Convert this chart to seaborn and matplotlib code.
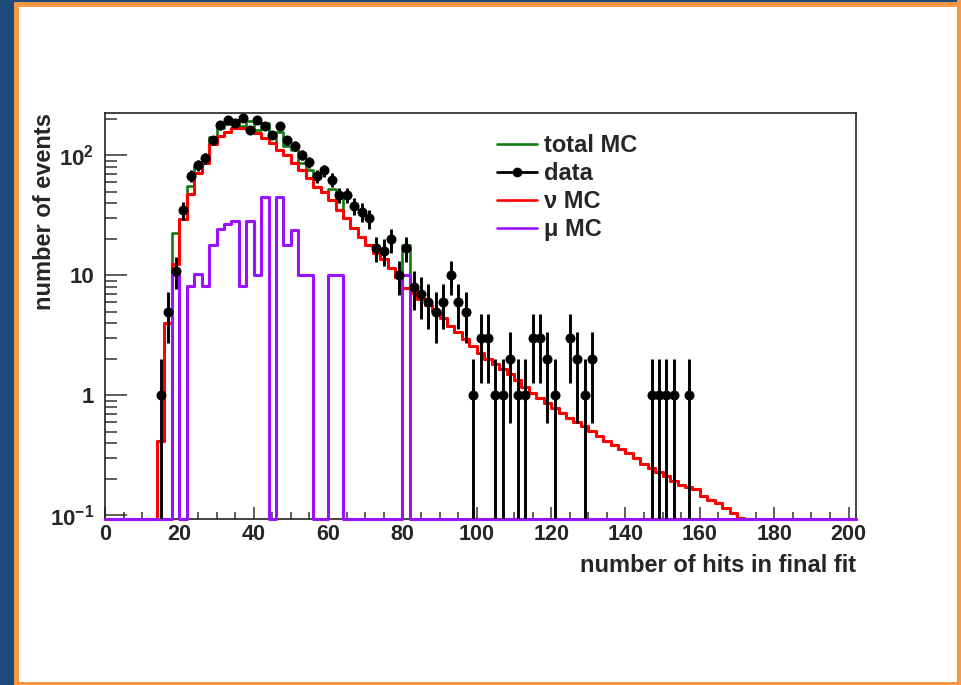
import numpy as np
import pandas as pd
import matplotlib
matplotlib.use("Agg")
import matplotlib.pyplot as plt
from matplotlib.patches import Rectangle
from matplotlib.lines import Line2D
from matplotlib.ticker import LogLocator, NullFormatter
import seaborn as sns

# ---------------- data ----------------
bin_width = 2
x_range = (0, 202)

# nu MC (red): contents of bins starting at edge 14, width 2
nu_mc_first_edge = 14
nu_mc = [0.42, 4.0, 12.4, 29.6, 48, 72, 86, 124, 145, 158, 169, 169, 166, 153, 141,
         128, 112, 101, 87, 76, 65, 55, 50, 42.6, 35, 30, 24.7, 21, 18, 15.3, 13.7,
         11.5, 9.8, 7.9, 7.2, 6.4, 5.7, 5.1, 4.4, 3.8, 3.35, 2.95, 2.6, 2.25, 2.0,
         1.82, 1.66, 1.5, 1.34, 1.18, 1.05, 0.95, 0.86, 0.78, 0.71, 0.65, 0.60, 0.56,
         0.51, 0.46, 0.42, 0.39, 0.36, 0.33, 0.30, 0.27, 0.25, 0.23, 0.215, 0.195,
         0.18, 0.172, 0.165, 0.145, 0.135, 0.126, 0.115, 0.104, 0.096]

# mu MC (purple): bins starting at edge 18
mu_mc_first_edge = 18
mu_mc = [10, 0, 8.2, 10.3, 8.2, 18, 24.2, 26.7, 28.5, 8.2, 28.5, 10, 45, 0, 45, 18,
         24, 10, 10, 0, 0, 10, 10, 0, 0, 0, 0, 0, 0, 0, 0, 10]

# total MC (green): bins starting at edge 14
total_mc_first_edge = 14
total_mc = [0.42, 4.0, 22.4, 29.6, 56.2, 82.3, 94.2, 142, 169.2, 184.7, 197.5, 177.2,
            194.5, 163, 186, 128, 157, 119, 111, 86, 75, 55, 50, 52.6, 45, 30, 24.7,
            21, 18, 15.3, 13.7, 11.5, 9.8, 17.9, 7.2, 6.4, 5.7, 5.1, 4.4, 3.8, 3.35,
            2.95, 2.6, 2.25, 2.0, 1.82, 1.66, 1.5, 1.34, 1.18, 1.05, 0.95, 0.86, 0.78,
            0.71, 0.65, 0.60, 0.56, 0.51, 0.46, 0.42, 0.39, 0.36, 0.33, 0.30, 0.27,
            0.25, 0.23, 0.215, 0.195, 0.18, 0.172, 0.165, 0.145, 0.135, 0.126, 0.115,
            0.104, 0.096]

# data (black points): bin centres and counts
data_centers = [15, 17, 19, 21, 23, 25, 27, 29, 31, 33, 35, 37, 39, 41, 43, 45, 47, 49,
                51, 53, 55, 57, 59, 61, 63, 65, 67, 69, 71, 73, 75, 77, 79, 81, 83, 85,
                87, 89, 91, 93, 95, 97, 99, 101, 103, 105, 107, 109, 111, 113, 115, 117,
                119, 121, 125, 127, 129, 131, 147, 149, 151, 153, 157]
data_counts = [1, 5, 11, 35, 68, 83, 95, 135, 178, 198, 187, 206, 164, 198, 175, 149,
               175, 134, 121, 101, 88, 67, 75, 63, 47, 47, 38, 34, 30, 17, 16, 20, 10,
               17, 8, 7, 6, 5, 6, 10, 6, 5, 1, 3, 3, 1, 1, 2, 1, 1, 3, 3, 2, 1, 3, 2,
               1, 2, 1, 1, 1, 1, 1]

legend_labels = ["total MC", "data", "ν MC", "μ MC"]
x_title = "number of hits in final fit"
y_title = "number of events"
x_ticks = [0, 20, 40, 60, 80, 100, 120, 140, 160, 180, 200]
y_ticks = [0.1, 1, 10, 100]
y_tick_labels = ["10$^{-1}$", "1", "10", "10$^{2}$"]
y_limits = (0.0935, 226)

# ---------------- style ----------------
sns.set_theme(style="ticks")
plt.rcParams["font.family"] = ["Liberation Sans", "DejaVu Sans"]
plt.rcParams["font.weight"] = "bold"
plt.rcParams["mathtext.fontset"] = "custom"
plt.rcParams["mathtext.rm"] = "Liberation Sans:bold"
plt.rcParams["mathtext.it"] = "Liberation Sans:bold"
plt.rcParams["mathtext.bf"] = "Liberation Sans:bold"

c_total = "#137a13"
c_data = "black"
c_nu = "#ff0000"
c_mu = "#9b10ff"

W, H = 961, 685
fig = plt.figure(figsize=(W / 100, H / 100), dpi=100, facecolor="white")

# slide-like border
blue = "#1F497D"
orange = "#F79646"
fig.add_artist(Rectangle((0, 0), 13.5 / W, 1, transform=fig.transFigure, color=blue, lw=0))
fig.add_artist(Rectangle((13.5 / W, 0), 5.5 / W, 1, transform=fig.transFigure, color=orange, lw=0))
fig.add_artist(Rectangle((13.5 / W, 1 - 6.7 / H), 1, 5.0 / H, transform=fig.transFigure, color=orange, lw=0))
fig.add_artist(Rectangle((0, 1 - 1.7 / H), 1, 1.7 / H, transform=fig.transFigure, color=blue, lw=0))
fig.add_artist(Rectangle((1 - 4 / W, 0), 4 / W, 1, transform=fig.transFigure, color=orange, lw=0))
fig.add_artist(Rectangle((13.5 / W, 0), 1, 3.5 / H, transform=fig.transFigure, color=orange, lw=0))

ax_left, ax_right, ax_top, ax_bottom = 105, 856, 113, 519
ax = fig.add_axes([ax_left / W, 1 - ax_bottom / H, (ax_right - ax_left) / W,
                   (ax_bottom - ax_top) / H])
ax.set_facecolor("white")

edges = np.arange(x_range[0], x_range[1] + bin_width, bin_width)
centers = edges[:-1] + bin_width / 2


def full_hist(first_edge, values):
    arr = np.zeros(len(centers))
    i0 = int((first_edge - x_range[0]) // bin_width)
    arr[i0:i0 + len(values)] = values
    return arr


ymin = y_limits[0]
for vals, first, col, lw, z in [(total_mc, total_mc_first_edge, c_total, 1.9, 2.0),
                                (nu_mc, nu_mc_first_edge, c_nu, 2.2, 2.2),
                                (mu_mc, mu_mc_first_edge, c_mu, 2.2, 2.4)]:
    h = full_hist(first, vals)
    df = pd.DataFrame({"hits": centers, "w": np.maximum(h, ymin)})
    sns.histplot(data=df, x="hits", weights="w", bins=[float(e) for e in edges],
                 element="step", fill=False, color=col, linewidth=lw, ax=ax,
                 zorder=z, clip_on=False)

# data with Poisson errors
counts = np.array(data_counts, dtype=float)
ax.errorbar(data_centers, counts, yerr=np.sqrt(counts), fmt="none", ecolor=c_data,
            elinewidth=2.1, capsize=0, zorder=4)
sns.scatterplot(x=data_centers, y=counts, color=c_data, s=52, marker="o",
                edgecolor=c_data, linewidth=0, zorder=5, ax=ax, legend=False)

ax.set_yscale("log")
ax.set_xlim(*x_range)
ax.set_ylim(*y_limits)
ax.set_xticks(x_ticks)
ax.set_xticklabels([str(t) for t in x_ticks])
ax.set_xticks(np.arange(0, 201, 5), minor=True)
ax.set_yticks(y_ticks)
ax.set_yticklabels(y_tick_labels)
ax.yaxis.set_minor_locator(LogLocator(base=10, subs=np.arange(2, 10)))
ax.yaxis.set_minor_formatter(NullFormatter())
ax.set_xlabel("")
ax.set_ylabel("")

ax.tick_params(axis="x", which="major", direction="in", length=8.5, width=1.1,
               color="#333333", labelsize=15.5, pad=3.5, top=False)
ax.tick_params(axis="x", which="minor", direction="in", length=4.8, width=1.1,
               color="#333333", top=False)
ax.tick_params(axis="y", which="major", direction="in", length=16, width=1.1,
               color="#333333", labelsize=16, pad=8, right=False)
ax.tick_params(axis="y", which="minor", direction="in", length=8.6, width=1.1,
               color="#333333", right=False)
for lab in ax.get_xticklabels() + ax.get_yticklabels():
    lab.set_fontweight("bold")

for s in ax.spines.values():
    s.set_visible(True)
    s.set_color("#222222")
    s.set_linewidth(1.2)
    s.set_zorder(1.5)

ax.text(1.0, (ax_bottom - 572) / (ax_bottom - ax_top), x_title, transform=ax.transAxes,
        ha="right", va="baseline", fontsize=17, fontweight="bold")
ax.text((45 - ax_left) / (ax_right - ax_left), 1.0, y_title, transform=ax.transAxes,
        ha="center", va="top", rotation=90, fontsize=17, fontweight="bold")

handles = [Line2D([0], [0], color=c_total, lw=1.9),
           Line2D([0], [0], color=c_data, lw=2.0, marker="o", markersize=6),
           Line2D([0], [0], color=c_nu, lw=1.9),
           Line2D([0], [0], color=c_mu, lw=1.9)]
leg = ax.legend(handles, legend_labels, loc="upper left",
                bbox_to_anchor=((497 - ax_left) / (ax_right - ax_left),
                                (ax_bottom - 134) / (ax_bottom - ax_top)),
                frameon=False, borderpad=0, borderaxespad=0, handlelength=1.7,
                handletextpad=0.3, labelspacing=0.21, prop={"size": 17, "weight": "bold"})

fig.savefig("out.png", dpi=100, facecolor="white")
